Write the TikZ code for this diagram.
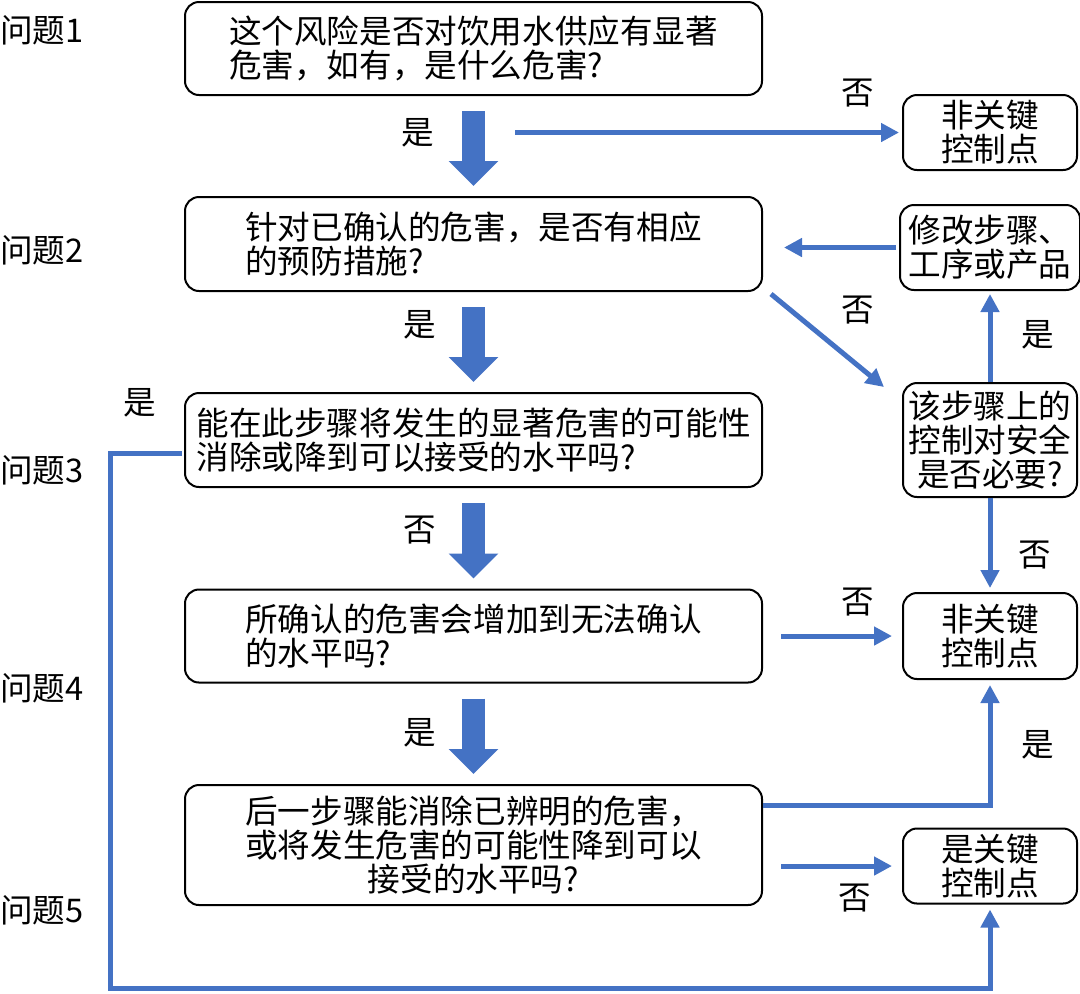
\documentclass[tikz,border=0pt]{standalone}
\usepackage{fontspec}
\setmainfont{Noto Sans CJK SC}
\usetikzlibrary{arrows.meta}
\definecolor{flowblue}{RGB}{68,114,196}

\tikzset{
  box/.style={draw, line width=1pt, rounded corners=7pt, minimum width=288.5pt, align=left, inner sep=0pt},
  sidebox/.style={draw, line width=1pt, rounded corners=7pt, minimum width=87pt, align=center, inner sep=0pt},
  flow/.style={draw=flowblue, line width=2.5pt, -{Triangle[length=9pt,width=9pt]}},
  bigarrow/.style={draw=flowblue, line width=11.5pt, -{Triangle[length=12.5pt,width=24pt]}, shorten <=7.5pt, shorten >=5pt},
  tag/.style={inner sep=0pt}
}

\begin{document}
\begin{tikzpicture}[x=0.5pt, y=-0.5pt, font=\fontsize{16.3pt}{17pt}\selectfont]
\useasboundingbox (0,0) rectangle (1080,993);

% main questions
\node[box, minimum height=46.5pt] (q1) at (473.5,48.5) {这个风险是否对饮用水供应有显著\\危害，如有，是什么危害?};
\node[box, minimum height=47pt] (q2) at (473.5,244) {针对已确认的危害，是否有相应\\的预防措施?};
\node[box, minimum height=47pt] (q3) at (473.5,440) {能在此步骤将发生的显著危害的可能性\\消除或降到可以接受的水平吗?};
\node[box, minimum height=46.5pt] (q4) at (473.5,636) {所确认的危害会增加到无法确认\\的水平吗?};
\node[box, minimum height=60pt, align=center] (q5) at (473.5,845) {后一步骤能消除已辨明的危害，\\或将发生危害的可能性降到可以\\接受的水平吗?};

% side boxes
\node[sidebox, minimum height=37.5pt] (r1) at (990,132.5) {非关键\\控制点};
\node[sidebox, minimum height=42.5pt, minimum width=90pt] (r2) at (990,247.5) {修改步骤、\\工序或产品};
\node[sidebox, minimum height=57pt] (r3) at (990,440) {该步骤上的\\控制对安全\\是否必要?};
\node[sidebox, minimum height=43pt] (r4) at (990,636) {非关键\\控制点};
\node[sidebox, minimum height=37.5pt] (r5) at (990,866) {是关键\\控制点};

% question labels
\node[tag, anchor=west] (p1) at (0,30) {问题1};
\node[tag, anchor=west] (p2) at (0,250) {问题2};
\node[tag, anchor=west] (p3) at (0,470) {问题3};
\node[tag, anchor=west] (p4) at (0,688) {问题4};
\node[tag, anchor=west] (p5) at (0,910) {问题5};

% main flow
\draw[bigarrow] (q1) -- (q2);
\draw[bigarrow] (q2) -- (q3);
\draw[bigarrow] (q3) -- (q4);
\draw[bigarrow] (q4) -- (q5);

% branches
\coordinate (s1) at (515,132.5);
\coordinate (lp) at (110,988);
\draw[flow, shorten >=1.5pt] (s1) -- (r1.west);
\draw[flow, shorten <=1.5pt, shorten >=10.5pt] (r2.west) -- (r2.west -| q2.east);
\draw[flow] ([shift={(8,2)}]q2.south east) -- ([shift={(-18,5)}]r3.north west);
\draw[flow, shorten >=1.5pt] (r3.north) -- (r2.south);
\draw[flow, shorten >=2pt] (r3.south) -- (r4.north);
\draw[flow, shorten <=9pt, shorten >=5pt] (q4.east) -- (r4.west);
\draw[flow, shorten >=2.5pt] ([shift={(0,-40)}]q5.east) -| (r4.south);
\draw[flow, shorten <=9pt, shorten >=5pt] (q5.east |- r5.west) -- (r5.west);
\draw[flow, shorten >=2.5pt] ([shift={(-2,13)}]q3.west) -| (lp) -| (r5.south);

% answers
\node[tag] (a1) at (418,133) {是};
\node[tag] (a2) at (858,93) {否};
\node[tag] (a3) at (420,325) {是};
\node[tag] (a4) at (858,310) {否};
\node[tag] (a5) at (1038,335) {是};
\node[tag] (a6) at (140,403) {是};
\node[tag] (a7) at (420,530) {否};
\node[tag] (a8) at (1035,555) {否};
\node[tag] (a9) at (858,602) {否};
\node[tag] (a10) at (420,733) {是};
\node[tag] (a11) at (1038,745) {是};
\node[tag] (a12) at (855,898) {否};
\end{tikzpicture}
\end{document}
